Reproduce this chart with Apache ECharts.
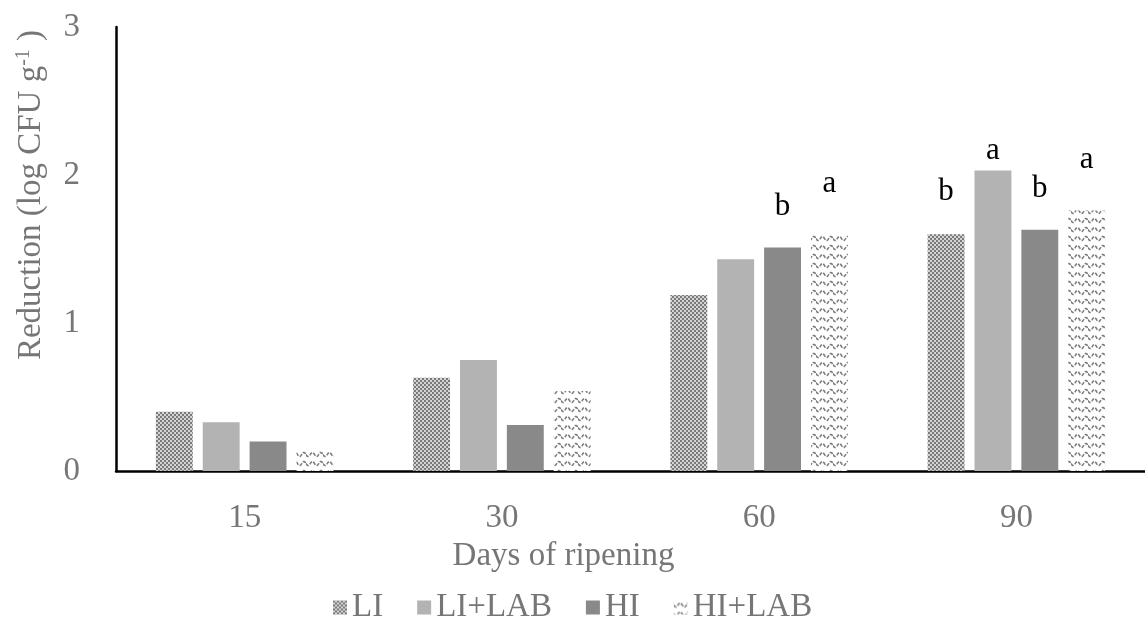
<!DOCTYPE html>
<html>
<head>
<meta charset="utf-8">
<script src="https://cdn.jsdelivr.net/npm/echarts@6/dist/echarts.min.js"></script>
<style>html,body{margin:0;padding:0;background:#fff}#c{width:1145px;height:627px}</style>
</head>
<body>
<div id="c"></div>
<script>
var categories = ['15', '30', '60', '90'];
var seriesNames = ['LI', 'LI+LAB', 'HI', 'HI+LAB'];
var valuesLI = [0.40, 0.63, 1.19, 1.60];
var valuesLILAB = [0.33, 0.75, 1.43, 2.03];
var valuesHI = [0.20, 0.31, 1.51, 1.63];
var valuesHILAB = [0.15, 0.54, 1.60, 1.76];
var lettersLI = ['', '', '', 'b'];
var lettersLILAB = ['', '', '', 'a'];
var lettersHI = ['', '', 'b', 'b'];
var lettersHILAB = ['', '', 'a', 'a'];
var yTicks = [0, 1, 2, 3];

function checker() {
  var c = document.createElement('canvas'); c.width = 4; c.height = 4;
  var g = c.getContext('2d');
  g.fillStyle = '#d4d4d4'; g.fillRect(0, 0, 4, 4);
  g.fillStyle = '#7a7a7a';
  g.fillRect(0, 0, 2, 2); g.fillRect(2, 2, 2, 2);
  return c;
}
function wave() {
  var c = document.createElement('canvas'); c.width = 17; c.height = 9;
  var g = c.getContext('2d');
  g.fillStyle = '#ffffff'; g.fillRect(0, 0, 17, 9);
  g.strokeStyle = '#7c7c7c'; g.lineWidth = 1.6;
  g.setLineDash([3.5, 1.5]);
  g.beginPath();
  for (var x = 0; x <= 17; x += 0.5) {
    var y = 4.5 + 2.0 * Math.sin(x / 17 * Math.PI * 4);
    if (x === 0) g.moveTo(x, y); else g.lineTo(x, y);
  }
  g.stroke();
  return c;
}
var fills = [
  {image: checker(), repeat: 'repeat'},
  '#b3b3b3',
  '#898989',
  {image: wave(), repeat: 'repeat'}
];
var allValues = [valuesLI, valuesLILAB, valuesHI, valuesHILAB];
var allLetters = [lettersLI, lettersLILAB, lettersHI, lettersHILAB];
var labelDist = [27, 4, 25, 35];
var FONT = 'Liberation Serif';
var GRAY = '#767676';

var series = seriesNames.map(function (n, i) {
  return {
    name: n, type: 'bar',
    data: allValues[i],
    barGap: '27%', barCategoryGap: '31%',
    itemStyle: {color: fills[i]},
    label: {
      show: true, position: 'top', distance: labelDist[i],
      color: '#000', fontFamily: FONT, fontSize: 31,
      formatter: function (p) { return allLetters[i][p.dataIndex]; }
    }
  };
});

var chart = echarts.init(document.getElementById('c'));
chart.setOption({
  animation: false,
  backgroundColor: '#fff',
  grid: {left: 116, right: -6, top: 27, bottom: 156, containLabel: false},
  legend: {
    data: seriesNames, bottom: -2, left: 328,
    itemWidth: 14, itemHeight: 14, itemGap: 34,
    icon: 'rect',
    textStyle: {fontFamily: FONT, fontSize: 33, color: GRAY}
  },
  xAxis: {
    type: 'category', data: categories,
    axisLine: {lineStyle: {color: '#000', width: 2.5}},
    axisTick: {show: false},
    axisLabel: {fontFamily: FONT, fontSize: 33, color: GRAY, margin: 31},
    name: 'Days of ripening', nameLocation: 'middle', nameGap: 63,
    nameTextStyle: {fontFamily: FONT, fontSize: 33, color: GRAY, padding: [0, 134, 0, 0]}
  },
  yAxis: {
    type: 'value', min: yTicks[0], max: yTicks[yTicks.length - 1], interval: 1,
    axisLine: {show: true, lineStyle: {color: '#000', width: 2.5}},
    axisTick: {show: false},
    splitLine: {show: false},
    axisLabel: {fontFamily: FONT, fontSize: 33, color: GRAY, margin: 36},
    name: 'Reduction (log CFU g{sup|-1} )', nameLocation: 'middle', nameGap: 68,
    nameTextStyle: {
      fontFamily: FONT, fontSize: 33, color: GRAY, padding: [0, 0, 0, 108],
      rich: {sup: {fontFamily: FONT, fontSize: 20, color: GRAY, verticalAlign: 'top', padding: [0, 0, 14, 0]}}
    }
  },
  series: series
});
</script>
</body>
</html>
